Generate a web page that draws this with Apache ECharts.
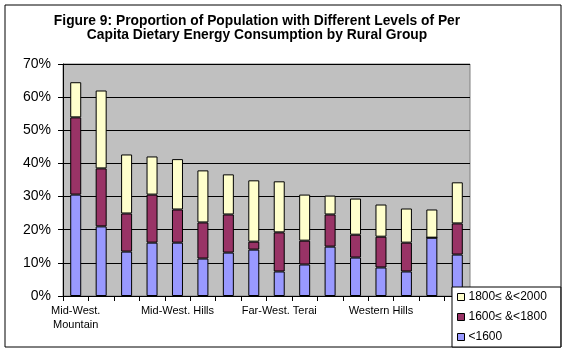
<!DOCTYPE html>
<html>
<head>
<meta charset="utf-8">
<script src="https://cdn.jsdelivr.net/npm/echarts@6/dist/echarts.min.js"></script>
<style>
    html, body {margin: 0; padding: 0; background: #fff;}
    #chart-1 {width: 569px; height: 353px;}
</style>
</head>
<body>
<div id="chart-1"></div>
<script type="text/javascript">
    // categories (only every 4th name is shown on the axis)
    var groups = ['Mid-West.\nMountain', '', '', '', 'Mid-West. Hills', '', '', '', 'Far-West. Terai', '', '', '', 'Western Hills', '', '', ''];
    var yTicks = [0, 10, 20, 30, 40, 50, 60, 70];

    // per cent of population, stacked from the bottom
    var below1600 = [30.6, 21.0, 13.4, 16.1, 16.1, 11.3, 13.1, 14.0, 7.4, 9.5, 14.9, 11.6, 8.6, 7.4, 17.6, 12.5];
    var from1600 = [23.3, 17.5, 11.5, 14.5, 10.0, 10.9, 11.5, 2.4, 11.8, 7.2, 9.7, 6.9, 9.3, 8.7, 0, 9.4];
    var from1800 = [10.6, 23.5, 17.8, 11.5, 15.2, 15.7, 12.1, 18.5, 15.4, 13.9, 5.7, 10.9, 9.7, 10.3, 8.5, 12.4];

    var myChart = echarts.init(document.getElementById('chart-1'));

    var option = {
        animation: false,
        title: {
            text: 'Figure 9: Proportion of Population with Different Levels of Per\nCapita Dietary Energy Consumption by Rural Group',
            left: 252,
            top: 9,
            textAlign: 'center',
            textStyle: {
                fontFamily: 'Liberation Sans, Arial',
                fontSize: 13.8,
                fontWeight: 'bold',
                color: '#000',
                lineHeight: 14
            }
        },
        graphic: [{
            type: 'rect',
            z: -1,
            shape: {x: 5, y: 5, width: 556, height: 342},
            style: {fill: '#fff', stroke: '#000', lineWidth: 1}
        }],
        legend: {
            orient: 'vertical',
            left: 452,
            top: 287,
            data: ['1800≤ &<2000', '1600≤ &<1800', '<1600'],
            icon: 'rect',
            itemWidth: 7,
            itemHeight: 7,
            itemGap: 6,
            padding: [3, 14, 3, 5],
            backgroundColor: '#fff',
            borderColor: '#000',
            borderWidth: 1,
            borderRadius: 0,
            itemStyle: {borderColor: '#000', borderWidth: 1},
            textStyle: {
                fontFamily: 'Liberation Sans, Arial',
                fontSize: 12,
                color: '#000',
                lineHeight: 14,
                padding: [0, 0, 0, -1]
            }
        },
        grid: {
            left: 63,
            top: 64,
            right: 99,
            bottom: 57,
            show: true,
            backgroundColor: '#c0c0c0',
            borderColor: '#808080',
            borderWidth: 1
        },
        xAxis: {
            type: 'category',
            data: groups,
            boundaryGap: true,
            axisLine: {lineStyle: {color: '#000', width: 1}},
            axisTick: {show: true, interval: 0, length: 5, lineStyle: {color: '#000'}},
            axisLabel: {
                interval: 3,
                margin: 8,
                color: '#000',
                fontFamily: 'Liberation Sans, Arial',
                fontSize: 11,
                lineHeight: 14
            },
            splitLine: {show: false}
        },
        yAxis: {
            type: 'value',
            min: yTicks[0],
            max: yTicks[yTicks.length - 1],
            interval: 10,
            axisLine: {show: true, lineStyle: {color: '#000', width: 1}},
            axisTick: {show: true, length: 5, lineStyle: {color: '#000'}},
            axisLabel: {
                formatter: '{value}%',
                margin: 12,
                color: '#000',
                fontFamily: 'Liberation Sans, Arial',
                fontSize: 14
            },
            splitLine: {lineStyle: {color: '#000', width: 1}}
        },
        series: [
            {
                name: '<1600',
                type: 'bar',
                stack: 'total',
                barWidth: 11,
                itemStyle: {color: '#9999ff', borderColor: '#000', borderWidth: 1},
                data: below1600
            },
            {
                name: '1600≤ &<1800',
                type: 'bar',
                stack: 'total',
                barWidth: 11,
                itemStyle: {color: '#993366', borderColor: '#000', borderWidth: 1},
                data: from1600
            },
            {
                name: '1800≤ &<2000',
                type: 'bar',
                stack: 'total',
                barWidth: 11,
                itemStyle: {color: '#ffffcc', borderColor: '#000', borderWidth: 1},
                data: from1800
            }
        ]
    };
    myChart.setOption(option);
</script>
</body>
</html>
